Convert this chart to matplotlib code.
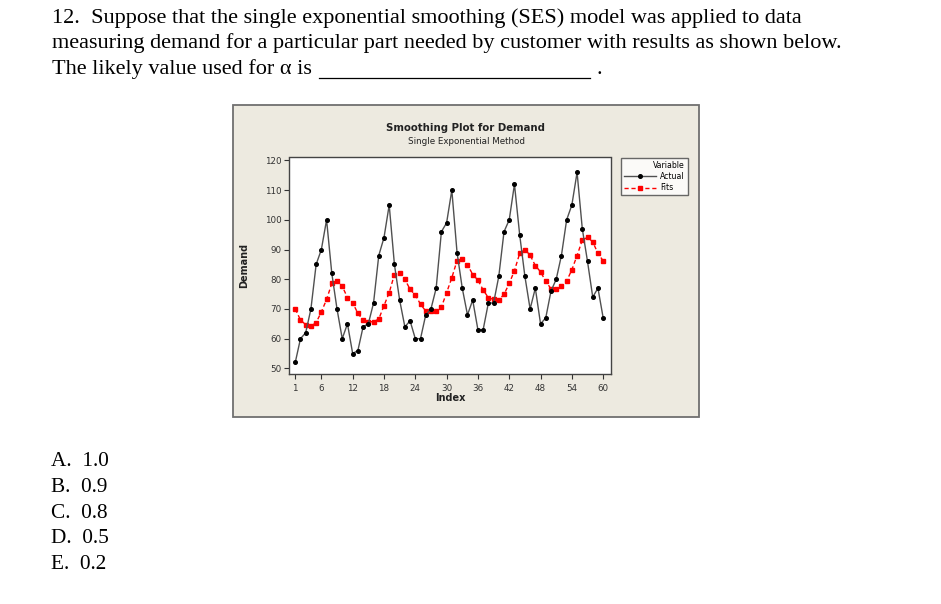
import numpy as np
import matplotlib
matplotlib.use("Agg")
import matplotlib.pyplot as plt
from matplotlib.patches import Rectangle
from matplotlib.lines import Line2D

# -------------------------
# Data
# -------------------------
index = list(range(1, 61))
actual = [52, 60, 62, 70, 85, 90, 100, 82, 70, 60,
          65, 55, 56, 64, 65, 72, 88, 94, 105, 85,
          73, 64, 66, 60, 60, 68, 70, 77, 96, 99,
          110, 89, 77, 68, 73, 63, 63, 72, 72, 81,
          96, 100, 112, 95, 81, 70, 77, 65, 67, 76,
          80, 88, 100, 105, 116, 97, 86, 74, 77, 67]
fits = [70.0, 66.3, 64.7, 64.2, 65.4, 69.0, 73.2, 78.6, 79.4, 77.7,
        73.8, 72.1, 68.5, 66.3, 65.7, 65.7, 66.6, 71.1, 75.5, 81.6,
        82.0, 80.0, 76.6, 74.7, 71.6, 69.3, 69.3, 69.3, 70.6, 75.5,
        80.5, 86.3, 86.8, 84.9, 81.6, 79.7, 76.4, 73.8, 73.2, 73.0,
        74.9, 78.6, 82.9, 88.7, 90.0, 88.1, 84.6, 82.5, 79.3, 76.8,
        76.7, 77.7, 79.4, 83.2, 88.0, 93.2, 94.1, 92.6, 88.7, 86.2]
x_ticks = [1, 6, 12, 18, 24, 30, 36, 42, 48, 54, 60]
y_ticks = [50, 60, 70, 80, 90, 100, 110, 120]

question = [
    "12.  Suppose that the single exponential smoothing (SES) model was applied to data",
    "measuring demand for a particular part needed by customer with results as shown below.",
    "The likely value used for \u03b1 is",
]
choices = ["A.  1.0", "B.  0.9", "C.  0.8", "D.  0.5", "E.  0.2"]

W, H = 941, 604


def fx(x):
    return x / W


def fy(y):
    return 1 - y / H


fig = plt.figure(figsize=(W / 100, H / 100), dpi=100)
serif = "Liberation Serif"

# question text
for i, line in enumerate(question):
    fig.text(fx(52), fy(22.5 + i * 25.8), line, family=serif, fontsize=16,
             va="baseline", ha="left")
fig.add_artist(Line2D([fx(319), fx(590)], [fy(78), fy(78)], color="black", lw=0.9))
fig.text(fx(596), fy(74), ".", family=serif, fontsize=16, va="baseline")

for i, c in enumerate(choices):
    fig.text(fx(51), fy(466 + i * 25.8), c, family=serif, fontsize=15.3,
             va="baseline", ha="left")

# Minitab-like panel (behind the axes)
fig.patches.append(Rectangle((fx(233), fy(417)), (699 - 233) / W, (417 - 105) / H,
                             transform=fig.transFigure, facecolor="#EDEAE0",
                             edgecolor="#707070", lw=1.3, zorder=-10))

fig.text(fx(466), fy(131), "Smoothing Plot for Demand", ha="center", va="baseline",
         fontsize=7.3, fontweight="bold", color="#222222")
fig.text(fx(466), fy(144), "Single Exponential Method", ha="center", va="baseline",
         fontsize=6.3, color="#222222")

ax = fig.add_axes([fx(289), fy(374), (611 - 289) / W, (374 - 157.5) / H], zorder=2)
ax.set_facecolor("white")
ax.plot(index, actual, color="#505050", lw=1.0, marker="o", ms=2.6,
        mfc="black", mec="black", label="Actual", zorder=3)
ax.plot(index, fits, color="red", lw=1.0, ls=(0, (3, 2)), marker="s", ms=3.4,
        mfc="red", mec="red", label="Fits", zorder=2)
ax.set_xlim(-0.2, 61.5)
ax.set_ylim(48.1, 121)
ax.set_xticks(x_ticks)
ax.set_yticks(y_ticks)
ax.tick_params(labelsize=6.3, length=3.5, width=0.8, colors="#333333")
ax.tick_params(axis="x", pad=4)
ax.tick_params(axis="y", pad=2)
for s in ax.spines.values():
    s.set_color("#444444")
    s.set_linewidth(1.0)
ax.set_xlabel("Index", fontsize=7, fontweight="bold", labelpad=0, color="#222222")
ax.set_ylabel("Demand", fontsize=7, fontweight="bold", labelpad=11, color="#222222")

leg = ax.legend(title="Variable", loc="upper left", bbox_to_anchor=(1.03, 1.0),
                fontsize=5.6, title_fontsize=5.6, frameon=True, fancybox=False,
                handlelength=4.2, borderpad=0.4, labelspacing=0.3, handletextpad=0.5,
                borderaxespad=0)
leg.get_frame().set_edgecolor("#444444")
leg.get_frame().set_linewidth(1.0)
leg._legend_box.align = "right"

fig.savefig("out.png", dpi=100)
